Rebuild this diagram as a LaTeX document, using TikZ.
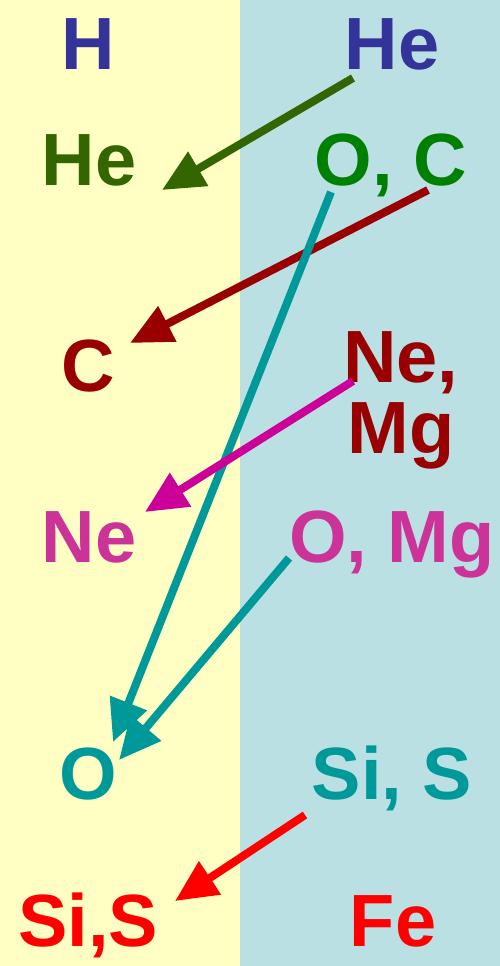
\documentclass[tikz,border=0pt]{standalone}
\usepackage{fontspec}
\setmainfont{Liberation Sans}
\usepackage{xcolor}
\usepackage{tikz}
\usetikzlibrary{arrows.meta}
\definecolor{bgyellow}{HTML}{FFFFC4}
\definecolor{bgblue}{HTML}{BBE0E3}
\definecolor{hblue}{HTML}{333399}
\definecolor{hegreen}{HTML}{336600}
\definecolor{ocgreen}{HTML}{008000}
\definecolor{cred}{HTML}{990000}
\definecolor{nepink}{HTML}{CC3399}
\definecolor{nemagenta}{HTML}{CC0099}
\definecolor{oteal}{HTML}{009999}
\definecolor{sired}{HTML}{FF0000}
\newcommand{\elemfont}{\fontsize{74}{71}\selectfont\bfseries}
\tikzset{
  elem/.style={font=\elemfont, anchor=base, inner sep=0pt, align=center},
  burn/.style={-{Triangle[length=42pt, width=38pt]}, line width=8pt},
}

\begin{document}
\begin{tikzpicture}[x=1pt, y=-1pt]
    \fill[bgyellow] (0,0) rectangle (240,966);
    \fill[bgblue] (240,0) rectangle (500,966);
    \useasboundingbox (0,0) rectangle (500,966);

    % left column
    \node[elem, text=hblue] (h) at (88,70) {H};
    \node[elem, text=hegreen] (heL) at (89,185) {He};
    \node[elem, text=cred] (cL) at (88,391) {C};
    \node[elem, text=nepink] (neL) at (89,562) {Ne};
    \node[elem, text=oteal] (oL) at (88,799) {O};
    \node[elem, text=sired] (sisL) at (88,946) {Si,S};

    % right column
    \node[elem, text=hblue] (heR) at (392,70) {He};
    \node[elem, text=ocgreen] (ocR) at (391,185) {O, C};
    \node[elem, text=cred] (nemgR) at (401,453) {Ne,\\Mg};
    \node[elem, text=nepink] (omgR) at (392,562) {O, Mg};
    \node[elem, text=oteal] (sisR) at (392,799) {Si, S};
    \node[elem, text=sired] (feR) at (393,946) {Fe};

    % arrow ends
    \coordinate (heR-out) at (353,78);
    \coordinate (heL-in) at (162,190);
    \coordinate (ocR-c) at (428,190);
    \coordinate (cL-in) at (130,343);
    \coordinate (ocR-o) at (331,192);
    \coordinate (oL-in1) at (113,742);
    \coordinate (nemgR-out) at (353,381);
    \coordinate (neL-in) at (145,512);
    \coordinate (omgR-out) at (289,558);
    \coordinate (oL-in2) at (119,760);
    \coordinate (sisR-out) at (305,815);
    \coordinate (sisL-in) at (175,901);

    \draw[burn, hegreen] (heR-out) -- (heL-in);
    \draw[burn, cred] (ocR-c) -- (cL-in);
    \draw[burn, oteal] (ocR-o) -- (oL-in1);
    \draw[burn, nemagenta] (nemgR-out) -- (neL-in);
    \draw[burn, oteal] (omgR-out) -- (oL-in2);
    \draw[burn, sired] (sisR-out) -- (sisL-in);
\end{tikzpicture}
\end{document}
